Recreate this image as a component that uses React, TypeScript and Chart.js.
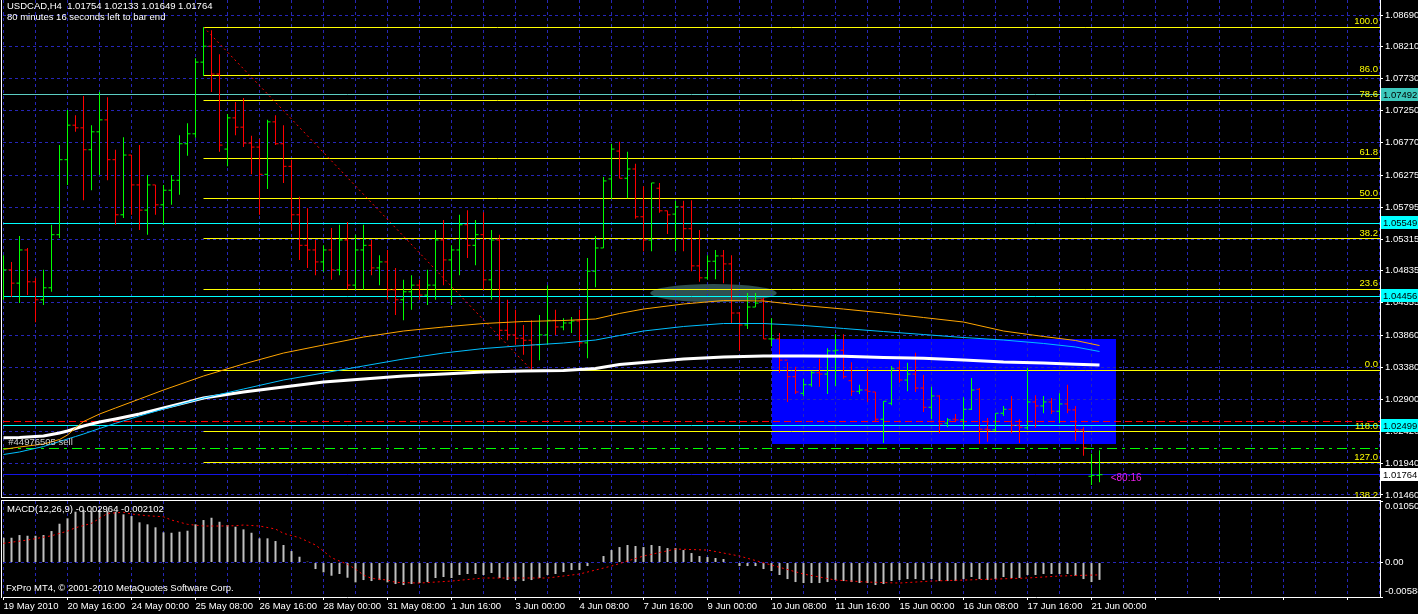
import React, { useEffect, useRef } from 'react';
import { Chart, registerables } from 'chart.js';

Chart.register(...registerables);

// ---------------- USDCAD H4 price bars (bar 0 = 19 May 2010) ----------------
const opens = [
  1.0455, 1.0485, 1.0465, 1.0515, 1.0467, 1.0440, 1.0458, 1.0538, 1.0651, 1.0703,
  1.0699, 1.0666, 1.0693, 1.0711, 1.0651, 1.0568, 1.0658, 1.0613, 1.0575, 1.0613,
  1.0583, 1.0605, 1.0620, 1.0675, 1.0690, 1.0798, 1.0822, 1.0780, 1.0667, 1.0714,
  1.0700, 1.0676, 1.0670, 1.0629, 1.0708, 1.0675, 1.0641, 1.0568, 1.0522, 1.0515,
  1.0497, 1.0515, 1.0485, 1.0530, 1.0462, 1.0515, 1.0522, 1.0488, 1.0497, 1.0455,
  1.0440, 1.0452, 1.0462, 1.0447, 1.0462, 1.0530, 1.0500, 1.0515, 1.0553, 1.0522,
  1.0538, 1.0470, 1.0530, 1.0394, 1.0387, 1.0382, 1.0379, 1.0372, 1.0387, 1.0409,
  1.0399, 1.0405, 1.0408, 1.0375, 1.0483, 1.0518, 1.0622, 1.0664, 1.0623, 1.0637,
  1.0565, 1.0530, 1.0608, 1.0574, 1.0569, 1.0580, 1.0547, 1.0491, 1.0473, 1.0498,
  1.0506, 1.0494, 1.0420, 1.0402, 1.0429, 1.0440, 1.0381, 1.0381, 1.0349, 1.0324,
  1.0299, 1.0312, 1.0330, 1.0328, 1.0363, 1.0364, 1.0318, 1.0302, 1.0304, 1.0301,
  1.0260, 1.0284, 1.0337, 1.0319, 1.0328, 1.0307, 1.0278, 1.0295, 1.0254, 1.0260,
  1.0259, 1.0275, 1.0305, 1.0245, 1.0244, 1.0269, 1.0275, 1.0251, 1.0247, 1.0286,
  1.0280, 1.0286, 1.0272, 1.0283, 1.0274, 1.0244, 1.0174, 1.01754,
];
const highs = [
  1.0507, 1.0497, 1.0536, 1.0518, 1.0473, 1.0485, 1.0553, 1.0673, 1.0726, 1.0718,
  1.0747, 1.0703, 1.0753, 1.0745, 1.0666, 1.0685, 1.0658, 1.0673, 1.0628, 1.0613,
  1.0613, 1.0628, 1.0688, 1.0706, 1.0804, 1.0851, 1.0846, 1.0810, 1.0720, 1.0738,
  1.0744, 1.0687, 1.0682, 1.0711, 1.0718, 1.0703, 1.0651, 1.0595, 1.0578, 1.0530,
  1.0522, 1.0548, 1.0553, 1.0557, 1.0538, 1.0553, 1.0530, 1.0507, 1.0515, 1.0488,
  1.0470, 1.0477, 1.0470, 1.0485, 1.0545, 1.0560, 1.0522, 1.0568, 1.0575, 1.0560,
  1.0572, 1.0545, 1.0538, 1.0440, 1.0425, 1.0402, 1.0409, 1.0417, 1.0462, 1.0425,
  1.0412, 1.0414, 1.0425, 1.0503, 1.0536, 1.0625, 1.0675, 1.0678, 1.0663, 1.0645,
  1.0611, 1.0616, 1.0616, 1.0574, 1.0589, 1.0589, 1.0590, 1.0545, 1.0507, 1.0515,
  1.0515, 1.0507, 1.0421, 1.0450, 1.0450, 1.0443, 1.0412, 1.0390, 1.0346, 1.0339,
  1.0321, 1.0333, 1.0351, 1.0367, 1.0388, 1.0388, 1.0346, 1.0312, 1.0336, 1.0301,
  1.0287, 1.0340, 1.0348, 1.0345, 1.0360, 1.0327, 1.0309, 1.0296, 1.0262, 1.0268,
  1.0293, 1.0322, 1.0307, 1.0262, 1.0269, 1.0280, 1.0295, 1.0260, 1.0337, 1.0296,
  1.0295, 1.0292, 1.0299, 1.0312, 1.0280, 1.0248, 1.0208, 1.02133,
];
const lows = [
  1.0440, 1.0444, 1.0435, 1.0447, 1.0406, 1.0432, 1.0452, 1.0533, 1.0613, 1.0693,
  1.0590, 1.0605, 1.0628, 1.0620, 1.0553, 1.0563, 1.0568, 1.0545, 1.0538, 1.0568,
  1.0553, 1.0583, 1.0598, 1.0657, 1.0684, 1.0777, 1.0753, 1.0663, 1.0641, 1.0688,
  1.0670, 1.0629, 1.0568, 1.0607, 1.0673, 1.0616, 1.0545, 1.0500, 1.0488, 1.0477,
  1.0482, 1.0470, 1.0477, 1.0455, 1.0455, 1.0455, 1.0477, 1.0462, 1.0440, 1.0417,
  1.0409, 1.0425, 1.0440, 1.0432, 1.0440, 1.0462, 1.0432, 1.0477, 1.0503, 1.0492,
  1.0455, 1.0440, 1.0379, 1.0379, 1.0372, 1.0357, 1.0334, 1.0349, 1.0372, 1.0387,
  1.0394, 1.0390, 1.0369, 1.0352, 1.0459, 1.0518, 1.0592, 1.0623, 1.0593, 1.0562,
  1.0513, 1.0513, 1.0571, 1.0539, 1.0513, 1.0513, 1.0483, 1.0467, 1.0470, 1.0471,
  1.0465, 1.0405, 1.0363, 1.0396, 1.0429, 1.0381, 1.0370, 1.0330, 1.0286, 1.0298,
  1.0295, 1.0309, 1.0309, 1.0298, 1.0310, 1.0321, 1.0295, 1.0298, 1.0286, 1.0257,
  1.0224, 1.0281, 1.0315, 1.0302, 1.0301, 1.0271, 1.0260, 1.0239, 1.0248, 1.0256,
  1.0244, 1.0274, 1.0223, 1.0226, 1.0242, 1.0265, 1.0239, 1.0224, 1.0244, 1.0247,
  1.0269, 1.0268, 1.0254, 1.0269, 1.0227, 1.0205, 1.0161, 1.01649,
];
const closes = [
  1.0485, 1.0465, 1.0515, 1.0467, 1.0440, 1.0458, 1.0538, 1.0651, 1.0703, 1.0699,
  1.0666, 1.0693, 1.0711, 1.0651, 1.0568, 1.0658, 1.0613, 1.0575, 1.0613, 1.0583,
  1.0605, 1.0620, 1.0675, 1.0690, 1.0798, 1.0822, 1.0780, 1.0673, 1.0714, 1.0700,
  1.0676, 1.0670, 1.0629, 1.0708, 1.0675, 1.0641, 1.0568, 1.0522, 1.0515, 1.0497,
  1.0515, 1.0485, 1.0530, 1.0462, 1.0515, 1.0522, 1.0488, 1.0497, 1.0455, 1.0440,
  1.0452, 1.0462, 1.0447, 1.0462, 1.0530, 1.0500, 1.0515, 1.0553, 1.0522, 1.0538,
  1.0470, 1.0530, 1.0394, 1.0387, 1.0382, 1.0379, 1.0372, 1.0387, 1.0409, 1.0399,
  1.0405, 1.0408, 1.0375, 1.0483, 1.0518, 1.0619, 1.0667, 1.0623, 1.0637, 1.0565,
  1.0530, 1.0616, 1.0574, 1.0568, 1.0580, 1.0547, 1.0491, 1.0473, 1.0498, 1.0506,
  1.0494, 1.0420, 1.0402, 1.0429, 1.0435, 1.0381, 1.0381, 1.0349, 1.0324, 1.0301,
  1.0312, 1.0330, 1.0328, 1.0363, 1.0364, 1.0324, 1.0302, 1.0304, 1.0302, 1.0260,
  1.0287, 1.0336, 1.0319, 1.0328, 1.0307, 1.0278, 1.0295, 1.0253, 1.0259, 1.0259,
  1.0275, 1.0304, 1.0245, 1.0244, 1.0269, 1.0275, 1.0251, 1.0248, 1.0286, 1.0280,
  1.0286, 1.0272, 1.0283, 1.0274, 1.0244, 1.0217, 1.01754, 1.01764,
];

// ---------------- moving averages (read at sample bars) ----------------
const maBars = [0, 2, 5, 7, 8, 9, 10, 12, 14, 17, 20, 25, 30, 35, 40, 45, 50, 55, 60, 65,
  70, 74, 77, 80, 85, 90, 95, 100, 105, 110, 115, 120, 125, 130, 134, 137];
const maOrange = [1.02146, 1.02181, 1.02226, 1.02294, 1.02362, 1.02467, 1.02565, 1.02678, 1.02769, 1.02904,
  1.03040, 1.03251, 1.03432, 1.03597, 1.03718, 1.03838, 1.03929, 1.03989, 1.04042, 1.04072,
  1.04087, 1.04110, 1.04193, 1.04260, 1.04336, 1.04388, 1.04381, 1.04313, 1.04260, 1.04200,
  1.04132, 1.04064, 1.03929, 1.03846, 1.03786, 1.03710];
const maBlue = [1.02068, 1.02106, 1.02189, 1.02264, 1.02302, 1.02339, 1.02377, 1.02460, 1.02538, 1.02648,
  1.02754, 1.02919, 1.03055, 1.03191, 1.03296, 1.03402, 1.03507, 1.03597, 1.03665, 1.03710,
  1.03748, 1.03793, 1.03861, 1.03929, 1.03997, 1.04042, 1.04042, 1.04012, 1.03967, 1.03921,
  1.03876, 1.03831, 1.03793, 1.03741, 1.03688, 1.03620];
const maWhite = [1.02321, 1.02324, 1.02347, 1.02392, 1.02422, 1.02460, 1.02497, 1.02558, 1.02603, 1.02678,
  1.02769, 1.02919, 1.03010, 1.03085, 1.03160, 1.03206, 1.03251, 1.03281, 1.03311, 1.03326,
  1.03334, 1.03364, 1.03424, 1.03454, 1.03507, 1.03537, 1.03552, 1.03552, 1.03548, 1.03530,
  1.03518, 1.03492, 1.03462, 1.03447, 1.03427, 1.03417];

// ---------------- MACD(12,26,9) ----------------
const macdHist = [
  0.00423, 0.00423, 0.00469, 0.00457, 0.00457, 0.00469, 0.00537, 0.00662, 0.00754, 0.00867,
  0.00896, 0.00879, 0.00896, 0.00884, 0.00867, 0.00822, 0.00793, 0.00686, 0.00652, 0.00601,
  0.00515, 0.00508, 0.00526, 0.00543, 0.00652, 0.00725, 0.00764, 0.00696, 0.00640, 0.00611,
  0.00566, 0.00508, 0.00413, 0.00413, 0.00367, 0.00299, 0.00196, 0.00099, 0.00014, -0.00111,
  -0.00167, -0.00225, -0.00196, -0.00259, -0.00338, -0.00299, -0.00316, -0.00299, -0.00338, -0.00367,
  -0.00384, -0.00367, -0.0035, -0.00333, -0.00264, -0.00247, -0.00264, -0.00213, -0.00196, -0.00196,
  -0.00213, -0.00179, -0.00264, -0.00299, -0.00316, -0.00316, -0.00299, -0.00264, -0.00213, -0.00196,
  -0.00162, -0.00128, -0.00128, -0.0006, 0.00009, 0.00111, 0.00213, 0.00264, 0.00299, 0.00282,
  0.00264, 0.00299, 0.00282, 0.00247, 0.00247, 0.00213, 0.00162, 0.00111, 0.00094, 0.00077,
  0.0006, 0.00009, -0.0006, -0.0006, -0.0006, -0.00111, -0.00145, -0.00213, -0.00282, -0.00333,
  -0.0035, -0.0035, -0.0035, -0.00333, -0.00299, -0.00316, -0.00333, -0.0035, -0.0035, -0.00384,
  -0.00367, -0.00316, -0.00299, -0.00282, -0.00282, -0.00299, -0.00282, -0.00316, -0.00316, -0.00316,
  -0.00282, -0.00247, -0.00282, -0.00299, -0.00282, -0.00247, -0.00264, -0.00264, -0.00213, -0.00213,
  -0.00196, -0.00196, -0.00196, -0.00196, -0.0023, -0.00282, -0.00333, -0.002964,
];
const signalBars = [0, 3, 6, 8, 9, 11, 12, 13, 15, 16, 18, 20, 21, 23, 25, 27, 29, 30, 32, 34,
  35, 37, 39, 40, 41, 43, 44, 45, 46, 48, 49, 52, 56, 60, 64, 68, 72, 76, 80, 84,
  88, 92, 96, 100, 104, 108, 112, 116, 120, 124, 128, 132, 137];
const signalValues = [0.00328, 0.00384, 0.00457, 0.00537, 0.00594, 0.00669, 0.00754, 0.00839, 0.00857, 0.00828,
  0.00798, 0.00781, 0.00725, 0.00652, 0.00623, 0.00623, 0.00628, 0.0064, 0.00623, 0.00572,
  0.00498, 0.00423, 0.00299, 0.00196, 0.00082, -0.00031, -0.00111, -0.00213, -0.0027, -0.00299,
  -0.00338, -0.0035, -0.00316, -0.00264, -0.00264, -0.00264, -0.00196, -0.0006, 0.00111, 0.0023,
  0.00213, 0.00111, -0.00043, -0.00196, -0.00299, -0.00333, -0.0035, -0.00316, -0.00299, -0.00282,
  -0.00264, -0.0023, -0.002102];

// ---------------- axes ----------------
const dateLabels = ['19 May 2010', '20 May 16:00', '24 May 00:00', '25 May 08:00', '26 May 16:00',
  '28 May 00:00', '31 May 08:00', '1 Jun 16:00', '3 Jun 00:00', '4 Jun 08:00', '7 Jun 16:00',
  '9 Jun 00:00', '10 Jun 08:00', '11 Jun 16:00', '15 Jun 00:00', '16 Jun 08:00', '17 Jun 16:00',
  '21 Jun 00:00'];
const BARS_PER_LABEL = 8;
const BARS_PER_GRID = 4;
const priceTicks = [1.0869, 1.0821, 1.0773, 1.0725, 1.0677, 1.06275, 1.05795, 1.05315, 1.04835,
  1.04355, 1.0386, 1.0338, 1.029, 1.0242, 1.0194, 1.0146];
const priceTickLabels = ['1.08690', '1.08210', '1.07730', '1.07250', '1.06770', '1.06275', '1.05795',
  '1.05315', '1.04835', '1.04355', '1.03860', '1.03380', '1.02900', '1.02420', '1.01940', '1.01460'];
const PRICE_MIN = 1.01428;
const PRICE_MAX = 1.08916;
const macdTicks = [-0.00588, 0, 0.0105];
const macdTickLabels = ['-0.00588', '0.00', '0.01050'];
const X_MIN = -0.0625;
const X_MAX = 172.0625;

// ---------------- chart objects ----------------
const levelPrices = [1.07492, 1.05549, 1.04456, 1.02499];
const levelLabels = ['1.07492', '1.05549', '1.04456', '1.02499'];
const levelColors = ['#5ccdc4', '#00ffff', '#00ffff', '#00ffff'];
const bidPrice = 1.01764;
const bidLabel = '1.01764';
const sellPrice = 1.02166;
const stopPrice = 1.02573;
const fibHigh = 1.08509;
const fibLow = 1.03341;
const fibFromBar = 25;
const fibToBar = 66;
const fibLevels = [100, 86, 78.6, 61.8, 50, 38.2, 23.6, 0, -18, -27, -38.2];
const fibLabels = ['100.0', '86.0', '78.6', '61.8', '50.0', '38.2', '23.6', '0.0', '118.0', '127.0', '138.2'];
const rectBars = [96, 139];
const rectPrices = [1.0381, 1.0223];
const ellipseBar = 88.75;
const ellipseHalfBars = 7.9;
const ellipsePrice = 1.045;
const ellipseHalfPrice = 0.00136;
const orderLabelBar = 0.6;
const timerBar = 138.4;
const timerPrice = 1.01714;

const header1 = 'USDCAD,H4  1.01754 1.02133 1.01649 1.01764';
const header2 = '80 minutes 16 seconds left to bar end';
const orderLabel = '#44976505 sell';
const timerLabel = '<80:16';
const macdTitle = 'MACD(12,26,9) -0.002964 -0.002102';
const copyright = 'FxPro MT4, \u00a9 2001-2010 MetaQuotes Software Corp.';

// ---------------- styles ----------------
const FAMILY = '"Liberation Sans", Arial, sans-serif';
const FSIZE = 9.5;
const FONT = `${FSIZE}px ${FAMILY}`;
const GRID = '#2626b8';
const UP = '#00ff00';
const DOWN = '#ff0000';

const gridTickValues: number[] = [];
for (let v = 0; v <= X_MAX; v += BARS_PER_GRID) gridTickValues.push(v);

function hline(ctx: any, x0: number, x1: number, y: number, color: string, dash: number[] = [], width = 1) {
  const yy = Math.round(y - 0.5) + 0.5;
  ctx.save();
  ctx.strokeStyle = color;
  ctx.lineWidth = width;
  ctx.setLineDash(dash);
  ctx.beginPath();
  ctx.moveTo(x0, yy);
  ctx.lineTo(x1, yy);
  ctx.stroke();
  ctx.restore();
}

function clipArea(ctx: any, a: any) {
  ctx.beginPath();
  ctx.rect(a.left, a.top, a.right - a.left, a.bottom - a.top);
  ctx.clip();
}

const mainPlugin = {
  id: 'mt4Main',
  beforeDraw(chart: any) {
    const { ctx, chartArea: a, scales } = chart;
    const x = scales.x;
    const y = scales.y;
    ctx.save();
    clipArea(ctx, a);
    // blue rectangle object
    const rx1 = Math.round(x.getPixelForValue(rectBars[0]));
    const rx2 = Math.round(x.getPixelForValue(rectBars[1]));
    const ry1 = Math.round(y.getPixelForValue(rectPrices[0]));
    const ry2 = Math.round(y.getPixelForValue(rectPrices[1]));
    ctx.fillStyle = '#0000ff';
    ctx.fillRect(rx1, ry1, rx2 - rx1, ry2 - ry1);
    // ellipse object
    const ecx = x.getPixelForValue(ellipseBar);
    const ecy = y.getPixelForValue(ellipsePrice);
    const erx = x.getPixelForValue(ellipseBar + ellipseHalfBars) - ecx;
    const ery = Math.abs(y.getPixelForValue(ellipsePrice - ellipseHalfPrice) - ecy);
    ctx.fillStyle = '#2f4f4f';
    ctx.beginPath();
    ctx.ellipse(ecx, ecy, erx, ery, 0, 0, Math.PI * 2);
    ctx.fill();
    ctx.restore();
  },
  beforeDatasetsDraw(chart: any) {
    const { ctx, chartArea: a, scales } = chart;
    const x = scales.x;
    const y = scales.y;
    ctx.save();
    clipArea(ctx, a);
    // fibonacci levels
    const fx0 = x.getPixelForValue(fibFromBar);
    fibLevels.forEach((lv) => {
      const p = fibLow + ((fibHigh - fibLow) * lv) / 100;
      hline(ctx, fx0, a.right, y.getPixelForValue(p), '#ffff00');
    });
    // fib trend line (red dotted)
    ctx.save();
    ctx.strokeStyle = '#ff0000';
    ctx.lineWidth = 1;
    ctx.setLineDash([2, 3]);
    ctx.beginPath();
    ctx.moveTo(x.getPixelForValue(fibFromBar), y.getPixelForValue(fibHigh));
    ctx.lineTo(x.getPixelForValue(fibToBar), y.getPixelForValue(fibLow));
    ctx.stroke();
    ctx.restore();
    // horizontal lines
    levelPrices.forEach((p, i) => hline(ctx, a.left, a.right, y.getPixelForValue(p), levelColors[i]));
    hline(ctx, a.left, a.right, y.getPixelForValue(stopPrice), '#ff0000', [7, 4]);
    hline(ctx, a.left, a.right, y.getPixelForValue(sellPrice), '#00ff00', [10, 5, 3, 5]);
    hline(ctx, a.left, a.right, y.getPixelForValue(bidPrice), '#1414e6');
    ctx.restore();
  },
  afterDatasetsDraw(chart: any) {
    const { ctx, chartArea: a, scales } = chart;
    const x = scales.x;
    const y = scales.y;
    ctx.save();
    clipArea(ctx, a);
    ctx.font = FONT;
    ctx.textAlign = 'right';
    ctx.textBaseline = 'alphabetic';
    ctx.fillStyle = '#ffff00';
    fibLevels.forEach((lv, i) => {
      const p = fibLow + ((fibHigh - fibLow) * lv) / 100;
      ctx.fillText(fibLabels[i], a.right - 2, y.getPixelForValue(p) - 3);
    });
    ctx.textAlign = 'left';
    ctx.fillStyle = '#d0d0d0';
    ctx.fillText(orderLabel, x.getPixelForValue(orderLabelBar), y.getPixelForValue(sellPrice) - 3);
    ctx.fillStyle = '#e81ee8';
    ctx.font = `10px ${FAMILY}`;
    ctx.textBaseline = 'middle';
    ctx.fillText(timerLabel, x.getPixelForValue(timerBar), y.getPixelForValue(timerPrice));
    ctx.restore();
  },
  afterDraw(chart: any) {
    const { ctx, chartArea: a, scales } = chart;
    const y = scales.y;
    ctx.save();
    // frame
    ctx.strokeStyle = '#ffffff';
    ctx.lineWidth = 1;
    ctx.beginPath();
    ctx.moveTo(1.5, 0);
    ctx.lineTo(1.5, a.bottom + 1);
    ctx.moveTo(1, a.bottom + 0.5);
    ctx.lineTo(a.right + 1, a.bottom + 0.5);
    ctx.stroke();
    // price boxes on the axis
    ctx.font = FONT;
    ctx.textAlign = 'left';
    ctx.textBaseline = 'middle';
    const box = (p: number, label: string, bg: string) => {
      const py = Math.round(y.getPixelForValue(p));
      ctx.fillStyle = bg;
      ctx.fillRect(a.right + 1, py - 7, chart.width - a.right - 1, 13);
      ctx.fillStyle = '#000000';
      ctx.fillText(label, a.right + 3, py);
    };
    levelPrices.forEach((p, i) => box(p, levelLabels[i], i === 0 ? '#3cc8bc' : '#00ffff'));
    box(bidPrice, bidLabel, '#ffffff');
    // header
    ctx.fillStyle = '#ffffff';
    ctx.textBaseline = 'top';
    ctx.fillText(header1, 7, 2);
    ctx.fillText(header2, 7, 13);
    ctx.restore();
  },
};

const macdPlugin = {
  id: 'mt4Macd',
  afterDraw(chart: any) {
    const { ctx, chartArea: a } = chart;
    ctx.save();
    ctx.strokeStyle = '#ffffff';
    ctx.lineWidth = 1;
    ctx.beginPath();
    ctx.moveTo(1.5, a.top - 1);
    ctx.lineTo(1.5, a.bottom + 1);
    ctx.moveTo(1, a.top - 0.5);
    ctx.lineTo(a.right + 1, a.top - 0.5);
    ctx.stroke();
    ctx.font = FONT;
    ctx.fillStyle = '#ffffff';
    ctx.textAlign = 'left';
    ctx.textBaseline = 'top';
    ctx.fillText(macdTitle, 7, a.top + 4);
    ctx.fillText(copyright, 6, a.bottom - 13);
    ctx.restore();
  },
};

const barColors = closes.map((c, i) => (c >= opens[i] ? UP : DOWN));

function xAxis(withLabels: boolean): any {
  return {
    type: 'linear',
    min: X_MIN,
    max: X_MAX,
    offset: false,
    bounds: 'data',
    grid: {
      color: GRID,
      lineWidth: 1,
      offset: false,
      drawTicks: withLabels,
      tickLength: 3,
      tickBorderDash: [],
      tickColor: (ctx: any) => (ctx.tick && ctx.tick.value % BARS_PER_LABEL === 0 ? '#ffffff' : 'rgba(0,0,0,0)'),
    },
    border: { display: withLabels, color: '#ffffff', dash: [3, 3] },
    ticks: {
      display: withLabels,
      color: '#ffffff',
      font: { family: FAMILY, size: FSIZE },
      align: 'start',
      padding: 1,
      maxRotation: 0,
      minRotation: 0,
      autoSkip: false,
      callback: (v: number) => (v % BARS_PER_LABEL === 0 ? dateLabels[v / BARS_PER_LABEL] || '' : ''),
    },
    afterBuildTicks: (s: any) => {
      s.ticks = gridTickValues.map((v) => ({ value: v }));
    },
    afterFit: (s: any) => {
      s.height = withLabels ? 17 : 0;
      s.paddingLeft = 0;
      s.paddingRight = 0;
    },
  };
}

export default function App() {
  const mainRef = useRef<HTMLCanvasElement>(null);
  const macdRef = useRef<HTMLCanvasElement>(null);

  useEffect(() => {
    const main = new Chart(mainRef.current as HTMLCanvasElement, {
      type: 'bar',
      data: {
        datasets: [
          {
            type: 'line',
            data: maBars.map((b, i) => ({ x: b, y: maOrange[i] })),
            borderColor: '#ffa500',
            borderWidth: 1,
            pointRadius: 0,
            tension: 0,
            order: 0,
          },
          {
            type: 'line',
            data: maBars.map((b, i) => ({ x: b, y: maBlue[i] })),
            borderColor: '#00bfff',
            borderWidth: 1,
            pointRadius: 0,
            tension: 0,
            order: 1,
          },
          {
            type: 'line',
            data: maBars.map((b, i) => ({ x: b, y: maWhite[i] })),
            borderColor: '#ffffff',
            borderWidth: 3,
            pointRadius: 0,
            tension: 0,
            order: 2,
          },
          {
            type: 'scatter',
            data: opens.map((o, i) => ({ x: i, y: o })),
            pointStyle: 'dash',
            pointRadius: 3,
            pointRotation: 180,
            pointBorderColor: barColors,
            pointBackgroundColor: barColors,
            pointBorderWidth: 1,
            order: 3,
          },
          {
            type: 'scatter',
            data: closes.map((c, i) => ({ x: i, y: c })),
            pointStyle: 'dash',
            pointRadius: 3,
            pointRotation: 0,
            pointBorderColor: barColors,
            pointBackgroundColor: barColors,
            pointBorderWidth: 1,
            order: 3,
          },
          {
            type: 'bar',
            data: highs.map((h, i) => ({ x: i, y: [lows[i], h] })),
            backgroundColor: barColors,
            borderWidth: 0,
            barThickness: 1,
            inflateAmount: 0,
            order: 4,
          },
        ],
      } as any,
      options: {
        responsive: false,
        animation: false,
        events: [],
        layout: { autoPadding: false, padding: { left: 3, top: 0, right: 0, bottom: 2 } },
        plugins: { legend: { display: false }, tooltip: { enabled: false } },
        scales: {
          x: xAxis(false),
          y: {
            type: 'linear',
            position: 'right',
            min: PRICE_MIN,
            max: PRICE_MAX,
            bounds: 'data',
            grid: { color: GRID, lineWidth: 1, tickColor: '#ffffff', tickLength: 3, tickBorderDash: [] },
            border: { display: true, color: '#ffffff', dash: [3, 3] },
            ticks: {
              color: '#ffffff',
              font: { family: FAMILY, size: FSIZE },
              padding: 2,
              autoSkip: false,
              callback: (_v: number, i: number) => priceTickLabels[i],
            },
            afterBuildTicks: (s: any) => {
              s.ticks = priceTicks.map((v) => ({ value: v }));
            },
            afterFit: (s: any) => {
              s.width = 38;
              s.paddingTop = 0;
              s.paddingBottom = 0;
            },
          },
        },
      } as any,
      plugins: [mainPlugin],
    });

    const macd = new Chart(macdRef.current as HTMLCanvasElement, {
      type: 'bar',
      data: {
        datasets: [
          {
            type: 'line',
            data: signalBars.map((b, i) => ({ x: b, y: signalValues[i] })),
            borderColor: '#ff0000',
            borderWidth: 1,
            borderDash: [2, 3],
            pointRadius: 0,
            tension: 0,
            order: 0,
          },
          {
            type: 'bar',
            data: macdHist.map((v, i) => ({ x: i, y: v })),
            backgroundColor: '#c0c0c0',
            borderWidth: 0,
            barThickness: 2,
            inflateAmount: 0,
            order: 1,
          },
        ],
      } as any,
      options: {
        responsive: false,
        animation: false,
        events: [],
        layout: { autoPadding: false, padding: { left: 3, top: 2, right: 0, bottom: 0 } },
        plugins: { legend: { display: false }, tooltip: { enabled: false } },
        scales: {
          x: xAxis(true),
          y: {
            type: 'linear',
            position: 'right',
            min: macdTicks[0],
            max: macdTicks[2],
            bounds: 'data',
            grid: {
              color: (ctx: any) => (ctx.tick && ctx.tick.value === 0 ? GRID : 'rgba(0,0,0,0)'),
              lineWidth: 1,
              tickColor: '#ffffff',
              tickLength: 3,
              tickBorderDash: [],
            },
            border: { display: true, color: '#ffffff', dash: [3, 3] },
            ticks: {
              color: '#ffffff',
              font: { family: FAMILY, size: FSIZE },
              padding: 2,
              autoSkip: false,
              callback: (_v: number, i: number) => {
                const t = macdTickLabels[i];
                if (i === 0) return [t, ''];
                if (i === macdTickLabels.length - 1) return ['', t];
                return t;
              },
            },
            afterBuildTicks: (s: any) => {
              s.ticks = macdTicks.map((v) => ({ value: v }));
            },
            afterFit: (s: any) => {
              s.width = 38;
              s.paddingTop = 0;
              s.paddingBottom = 0;
            },
          },
        },
      } as any,
      plugins: [macdPlugin],
    });

    return () => {
      main.destroy();
      macd.destroy();
    };
  }, []);

  return (
    <div style={{ position: 'fixed', left: 0, top: 0, width: 1418, height: 614, background: '#000', overflow: 'hidden' }}>
      <canvas
        ref={mainRef}
        width={1418}
        height={499}
        style={{ position: 'absolute', left: 0, top: 0, width: 1418, height: 499, display: 'block' }}
      />
      <canvas
        ref={macdRef}
        width={1418}
        height={115}
        style={{ position: 'absolute', left: 0, top: 499, width: 1418, height: 115, display: 'block' }}
      />
    </div>
  );
}
